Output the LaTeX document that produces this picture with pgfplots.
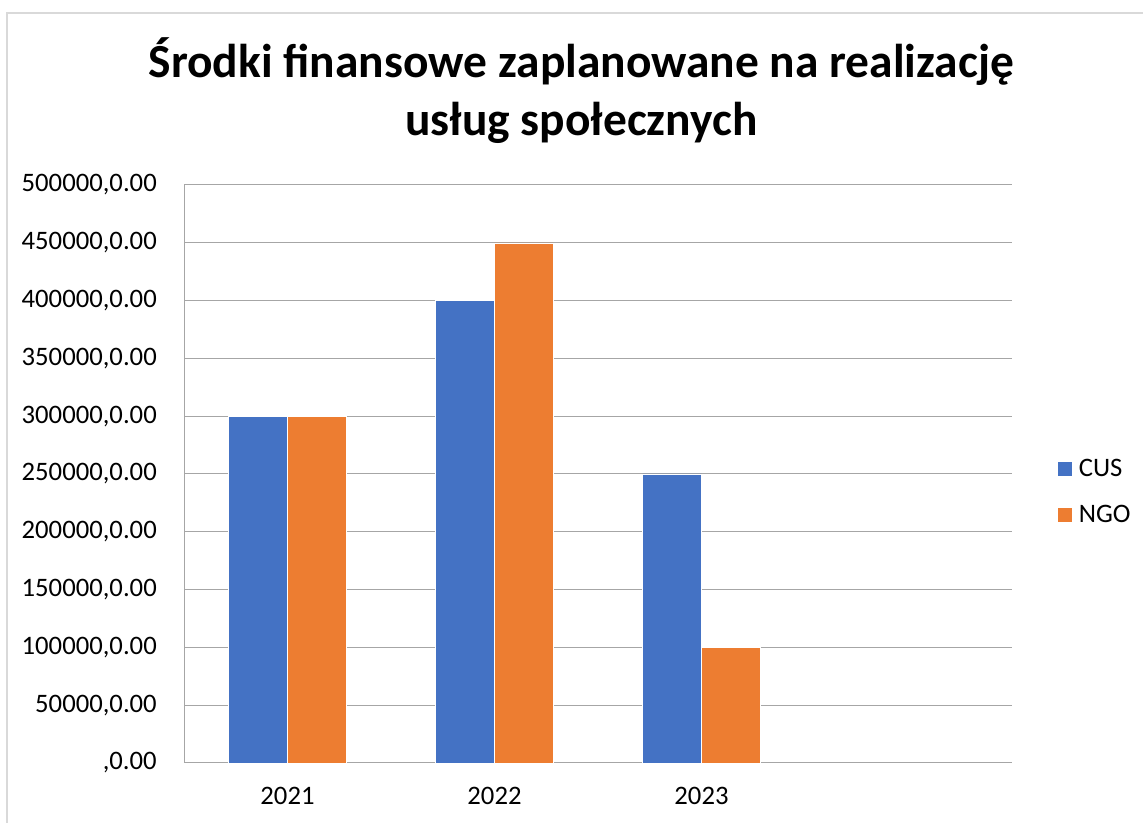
\documentclass[border=0pt]{standalone}
\usepackage{pgfplots}
\pgfplotsset{compat=1.18}
\usepackage{fontspec}
\setmainfont{Carlito}
\definecolor{cusblue}{HTML}{4472C4}
\definecolor{ngoorange}{HTML}{ED7D31}
\definecolor{gridgray}{HTML}{A6A6A6}
\definecolor{framegray}{HTML}{D9D9D9}
\begin{document}
\begin{tikzpicture}
\useasboundingbox (0,0) rectangle (857.25pt,617.25pt);
\fill[white] (0,0) rectangle (857.25pt,617.25pt);
\draw[framegray, line width=1.5pt] (5.25pt,0) -- (5.25pt,607.5pt) -- (857.25pt,607.5pt);
\node[anchor=base, font=\fontsize{35.6}{42}\selectfont\bfseries, inner sep=0pt] at (436pt,558.75pt) {Środki finansowe zaplanowane na realizację};
\node[anchor=base, font=\fontsize{35.6}{42}\selectfont\bfseries, inner sep=0pt] at (436pt,515.25pt) {usług społecznych};
\begin{axis}[
  at={(138pt,45pt)}, anchor=south west,
  scale only axis, width=621pt, height=433.5pt,
  xmin=-0.5, xmax=3.5, ymin=0, ymax=500000,
  xtick={0,1,2}, xticklabels={2021,2022,2023},
  ytick={0,50000,100000,150000,200000,250000,300000,350000,400000,450000,500000},
  yticklabels={{,0.00},{50000,0.00},{100000,0.00},{150000,0.00},{200000,0.00},{250000,0.00},{300000,0.00},{350000,0.00},{400000,0.00},{450000,0.00},{500000,0.00}},
  scaled y ticks=false,
  major tick length=0pt,
  axis x line*=bottom, axis y line*=left,
  axis line style={gridgray, line width=0.75pt, -},
  ymajorgrids, grid style={gridgray, line width=0.75pt},
  tick label style={font=\fontsize{20}{24}\selectfont, text=black},
  yticklabel style={anchor=east, inner sep=0pt, xshift=-20.25pt},
  xticklabel style={anchor=base, inner sep=0pt, yshift=-31.5pt},
  ybar, bar width=0.285,
  legend style={at={(1.049,0.469)}, anchor=west, draw=none, fill=none,
    font=\fontsize{20}{24}\selectfont, row sep=16pt,
    /tikz/every odd column/.append style={column sep=3pt},
    /tikz/every even column/.append style={column sep=0pt}},
  legend cell align=left,
  legend image code/.code={\fill[#1] (0pt,-5.6pt) rectangle (11.25pt,5.6pt);},
]
\addplot[fill=cusblue, draw=white, line width=0.3pt, bar shift=-0.1425] coordinates {(0,300000) (1,400000) (2,250000)};
\addplot[fill=ngoorange, draw=white, line width=0.3pt, bar shift=0.1425] coordinates {(0,300000) (1,450000) (2,100000)};
\legend{CUS,NGO}
\end{axis}
\end{tikzpicture}
\end{document}
